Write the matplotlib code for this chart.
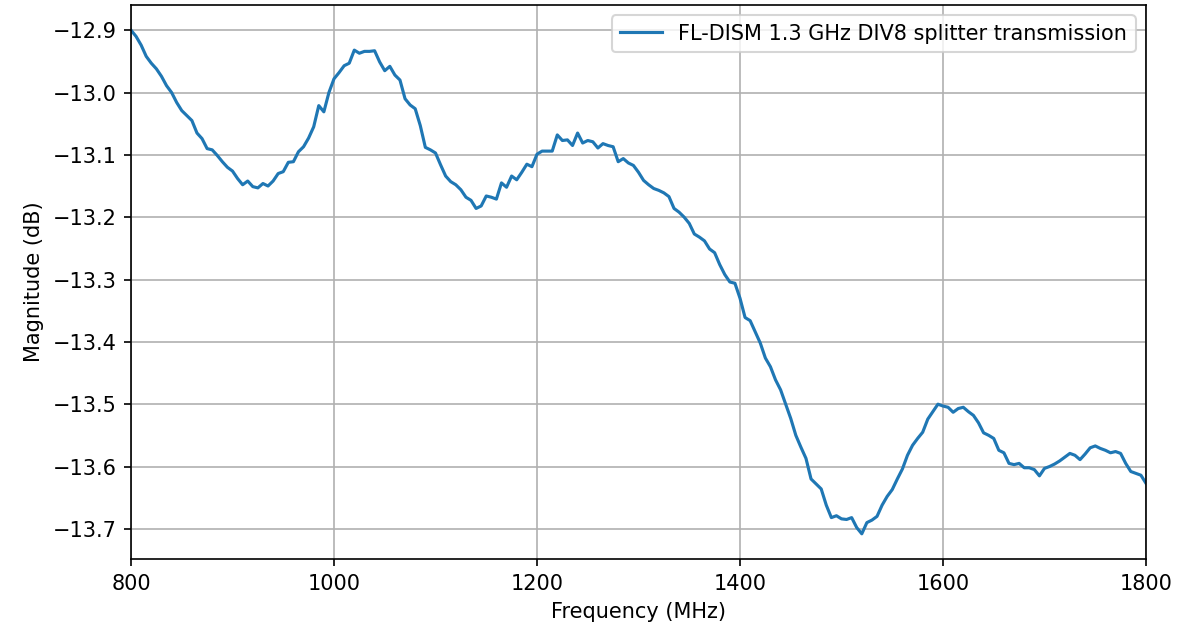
import numpy as np
import matplotlib
matplotlib.use('Agg')
import matplotlib.pyplot as plt

# frequency axis, 5 MHz steps
freq = np.arange(800, 1805, 5)

# magnitude (dB)
mag_800_1000 = [-12.900, -12.910, -12.924, -12.942, -12.953, -12.962, -12.974, -12.989,
                -13.000, -13.016, -13.029, -13.037, -13.045, -13.065, -13.074, -13.090,
                -13.092, -13.101, -13.111, -13.120, -13.126, -13.138, -13.148, -13.142,
                -13.151, -13.153, -13.146, -13.150, -13.142, -13.130, -13.127, -13.112,
                -13.111, -13.095, -13.087, -13.073, -13.055, -13.021, -13.031, -13.000]
mag_1000_1200 = [-12.978, -12.968, -12.957, -12.953, -12.932, -12.937, -12.934, -12.934,
                 -12.933, -12.951, -12.965, -12.958, -12.972, -12.980, -13.010, -13.020,
                 -13.026, -13.053, -13.088, -13.092, -13.097, -13.116, -13.134, -13.143,
                 -13.148, -13.156, -13.168, -13.173, -13.186, -13.182, -13.166, -13.168,
                 -13.171, -13.145, -13.152, -13.134, -13.140, -13.128, -13.115, -13.119]
mag_1200_1400 = [-13.099, -13.094, -13.094, -13.094, -13.068, -13.077, -13.076, -13.085,
                 -13.065, -13.081, -13.077, -13.079, -13.089, -13.082, -13.085, -13.087,
                 -13.111, -13.106, -13.113, -13.117, -13.128, -13.141, -13.148, -13.154,
                 -13.157, -13.161, -13.167, -13.186, -13.192, -13.200, -13.210, -13.227,
                 -13.232, -13.238, -13.251, -13.257, -13.276, -13.292, -13.304, -13.306]
mag_1400_1600 = [-13.330, -13.361, -13.366, -13.384, -13.402, -13.426, -13.440, -13.461,
                 -13.477, -13.500, -13.523, -13.550, -13.569, -13.587, -13.620, -13.628,
                 -13.636, -13.662, -13.682, -13.679, -13.684, -13.685, -13.682, -13.698,
                 -13.708, -13.690, -13.686, -13.680, -13.662, -13.648, -13.637, -13.620,
                 -13.604, -13.582, -13.566, -13.555, -13.545, -13.524, -13.512, -13.500]
mag_1600_1800 = [-13.503, -13.505, -13.513, -13.507, -13.505, -13.512, -13.518, -13.530,
                 -13.546, -13.550, -13.555, -13.574, -13.578, -13.595, -13.597, -13.595,
                 -13.602, -13.602, -13.605, -13.615, -13.603, -13.600, -13.596, -13.591,
                 -13.585, -13.579, -13.582, -13.589, -13.580, -13.570, -13.567, -13.571,
                 -13.574, -13.578, -13.576, -13.579, -13.595, -13.608, -13.611, -13.614,
                 -13.627]

mag = mag_800_1000 + mag_1000_1200 + mag_1200_1400 + mag_1400_1600 + mag_1600_1800

DPI = 150
fig = plt.figure(figsize=(1197/DPI, 627/DPI), dpi=DPI)
ax = fig.add_axes([131/1197, 68/627, (1146-131)/1197, (559-5)/627])
ax.plot(freq, mag, label='FL-DISM 1.3 GHz DIV8 splitter transmission')
ax.set_xlim(800, 1800)
ax.set_xlabel('Frequency (MHz)')
ax.set_ylabel('Magnitude (dB)')
ax.grid(True)
ax.legend(loc='upper right')

fig.savefig('out.png', dpi=DPI)
